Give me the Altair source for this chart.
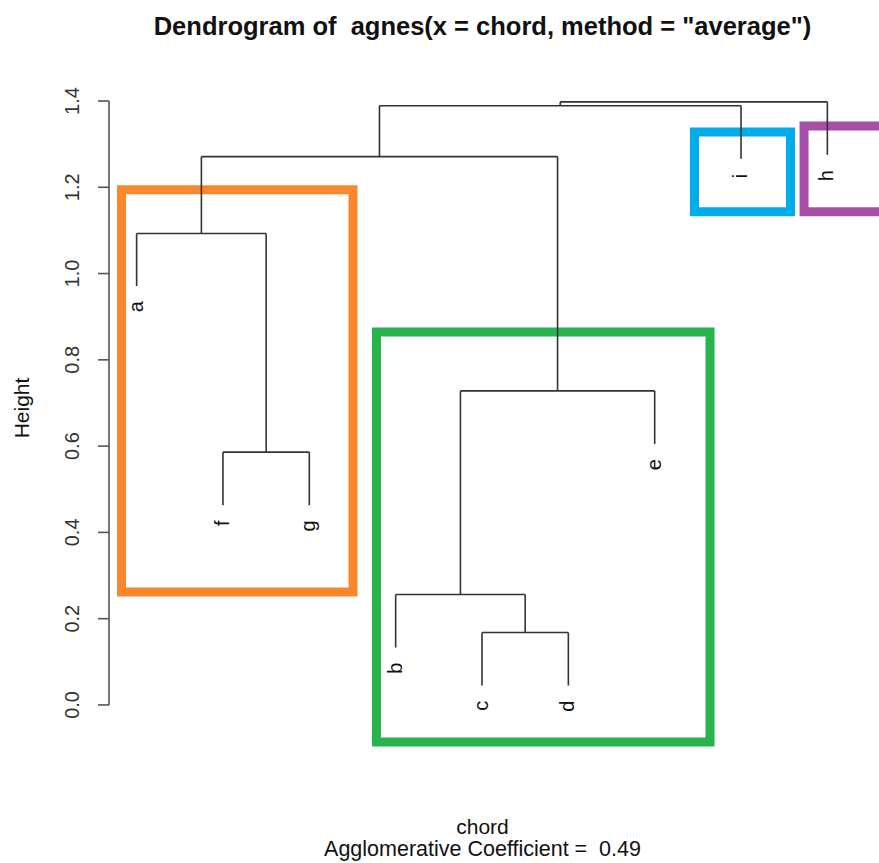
import altair as alt
import pandas as pd

# ---- data ----
leaf_names = ["a", "f", "g", "b", "c", "d", "e", "i", "h"]
leaf_pos = [1, 2, 3, 4, 5, 6, 7, 8, 9]
leaf_bottom = [0.971, 0.463, 0.463, 0.133, 0.045, 0.045, 0.605, 1.266, 1.275]

# merges: (left child, right child, height); negative = leaf index (1-based), positive = merge number
merge_left = [-5, -4, -2, 2, -1, 5, 6, 7]
merge_right = [-6, 1, -3, -7, 3, 4, -8, -9]
merge_height = [0.168, 0.256, 0.586, 0.728, 1.093, 1.271, 1.389, 1.398]

tick_values = [0.0, 0.2, 0.4, 0.6, 0.8, 1.0, 1.2, 1.4]
tick_labels = ["0.0", "0.2", "0.4", "0.6", "0.8", "1.0", "1.2", "1.4"]

box_names = ["orange", "green", "blue", "purple"]
box_x1 = [0.825, 3.778, 7.461, 8.730]
box_x2 = [3.506, 7.641, 8.573, 9.900]
box_y1 = [0.262, -0.086, 1.143, 1.143]
box_y2 = [1.194, 0.8645, 1.328, 1.342]
box_colors = ["#FB872D", "#27B34D", "#00ACEA", "#A64FA6"]

title_text = 'Dendrogram of \u00a0agnes(x = chord, method = "average")'
xlab_text = "chord"
sub_text = "Agglomerative Coefficient = \u00a00.49"
ylab_text = "Height"

# ---- build dendrogram segments ----
merge_x = []
segs = []
def child_info(c):
    if c < 0:
        return leaf_pos[-c - 1], leaf_bottom[-c - 1]
    return merge_x[c - 1], merge_height[c - 1]

for l, r, h in zip(merge_left, merge_right, merge_height):
    lx, lh = child_info(l)
    rx, rh = child_info(r)
    segs.append(dict(x=lx, x2=rx, y=h, y2=h))
    segs.append(dict(x=lx, x2=lx, y=lh, y2=h))
    segs.append(dict(x=rx, x2=rx, y=rh, y2=h))
    merge_x.append((lx + rx) / 2)
seg_df = pd.DataFrame(segs)

leaf_df = pd.DataFrame({"name": leaf_names, "x": leaf_pos,
                        "y": [b - 0.035 for b in leaf_bottom]})
box_df = pd.DataFrame({"name": box_names, "x": box_x1, "x2": box_x2,
                       "y": box_y1, "y2": box_y2})
tick_df = pd.DataFrame({"v": tick_values, "lab": tick_labels})

FONT = "Liberation Sans"
xs = alt.Scale(domain=[0.68, 9.32], nice=False, zero=False)
ys = alt.Scale(domain=[-0.2203, 1.495], nice=False, zero=False)

boxes = alt.Chart(box_df).mark_rect(filled=False, strokeWidth=9, strokeJoin="miter").encode(
    x=alt.X("x:Q", scale=xs, axis=None),
    x2="x2:Q",
    y=alt.Y("y:Q", scale=ys, axis=None),
    y2="y2:Q",
    stroke=alt.Stroke("name:N", scale=alt.Scale(domain=box_names, range=box_colors), legend=None),
)

tree = alt.Chart(seg_df).mark_rule(color="#333333", strokeWidth=1.6).encode(
    x=alt.X("x:Q", scale=xs, axis=None),
    x2="x2:Q",
    y=alt.Y("y:Q", scale=ys, axis=None),
    y2="y2:Q",
)

leaves = alt.Chart(leaf_df).mark_text(angle=270, align="right", baseline="middle",
                                       fontSize=20, font=FONT, color="#111111").encode(
    x=alt.X("x:Q", scale=xs, axis=None),
    y=alt.Y("y:Q", scale=ys, axis=None),
    text="name:N",
)

axis_line = alt.Chart(pd.DataFrame({"a": [0.0], "b": [1.4]})).mark_rule(
    color="#555555", strokeWidth=1.6).encode(
    x=alt.value(0),
    y=alt.Y("a:Q", scale=ys, axis=None),
    y2="b:Q",
)
ticks = alt.Chart(tick_df).mark_rule(color="#555555", strokeWidth=1.6).encode(
    x=alt.value(-11), x2=alt.value(0),
    y=alt.Y("v:Q", scale=ys, axis=None),
)
tick_text = alt.Chart(tick_df).mark_text(angle=270, align="center", baseline="middle",
                                         fontSize=20, font=FONT, color="#333333").encode(
    x=alt.value(-36),
    y=alt.Y("v:Q", scale=ys, axis=None),
    text="lab:N",
)

def label(txt, px, py, size, weight="normal", angle=0):
    return alt.Chart(pd.DataFrame({"t": [txt]})).mark_text(
        fontSize=size, font=FONT, fontWeight=weight, angle=angle,
        align="center", baseline="middle", color="#111111").encode(
        x=alt.value(px), y=alt.value(py), text="t:N")

title = label(title_text, 373.5, -33, 25.5, weight="bold")
xlab = label(xlab_text, 373.5, 768, 21)
sub = label(sub_text, 373.5, 790, 21.5)
ylab = label(ylab_text, -86, 348, 21, angle=270)

chart = alt.layer(boxes, tree, leaves, axis_line, ticks, tick_text, title, xlab, sub, ylab).properties(
    width=746, height=740,
    padding={"left": 109, "top": 60, "right": 24, "bottom": 63},
    autosize=alt.AutoSizeParams(type="none"),
    background="white",
).configure_view(stroke=None)

chart.save("out.html", embed_options={"renderer": "svg", "actions": False})
